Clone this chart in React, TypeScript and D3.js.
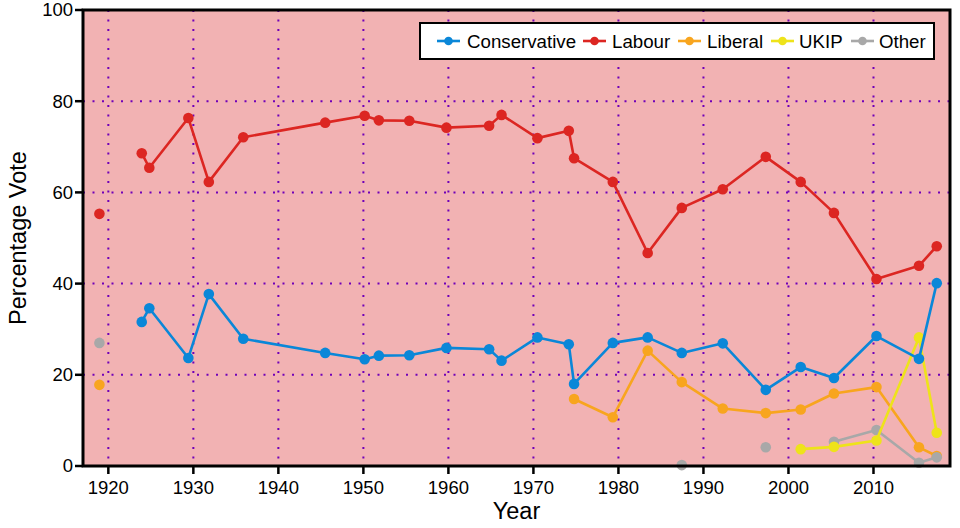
import React from "react";
import * as d3 from "d3";

// Election dates (decimal years); 1922.87 is a gap with no data
const electionYears = [
  1918.95, 1922.87, 1923.93, 1924.82, 1929.41, 1931.82, 1935.87, 1945.51, 1950.15, 1951.82,
  1955.4, 1959.77, 1964.79, 1966.25, 1970.47, 1974.16, 1974.78, 1979.34, 1983.44, 1987.45,
  1992.27, 1997.33, 2001.44, 2005.35, 2010.35, 2015.35, 2017.44,
];

const conservative = [
  null, null, 31.6, 34.6, 23.7, 37.7, 27.9, 24.8, 23.4, 24.2,
  24.3, 25.9, 25.6, 23.1, 28.2, 26.7, 18.0, 27.0, 28.2, 24.8,
  26.9, 16.7, 21.7, 19.3, 28.5, 23.5, 40.1,
];
const labour = [
  55.3, null, 68.6, 65.4, 76.3, 62.3, 72.1, 75.3, 76.8, 75.8,
  75.7, 74.2, 74.6, 77.0, 71.9, 73.5, 67.5, 62.3, 46.7, 56.6,
  60.7, 67.8, 62.3, 55.5, 41.0, 43.9, 48.2,
];
const liberal = [
  17.8, null, null, null, null, null, null, null, null, null,
  null, null, null, null, null, null, 14.7, 10.7, 25.3, 18.4,
  12.6, 11.6, 12.4, 15.9, 17.3, 4.1, 2.2,
];
const ukip = [
  null, null, null, null, null, null, null, null, null, null,
  null, null, null, null, null, null, null, null, null, null,
  null, null, 3.7, 4.2, 5.6, 28.2, 7.3,
];
const other = [
  27.0, null, null, null, null, null, null, null, null, null,
  null, null, null, null, null, null, null, null, null, 0.2,
  null, 4.1, null, 5.3, 7.9, 0.7, 1.9,
];

const seriesNames = ["Conservative", "Labour", "Liberal", "UKIP", "Other"];
const seriesColors = ["#0a87d8", "#dc2622", "#f8a51e", "#eee31a", "#a8a8a8"];
const seriesValues = [conservative, labour, liberal, ukip, other];
const drawOrder = [2, 4, 3, 1, 0];

const xTicks = [1920, 1930, 1940, 1950, 1960, 1970, 1980, 1990, 2000, 2010];
const yTicks = [0, 20, 40, 60, 80, 100];

const W = 960;
const H = 528;
const L = 83;
const R = 950;
const T = 10;
const B = 466;

const FONT = "'Liberation Sans', Arial, sans-serif";

export default function App() {
  const x = d3.scaleLinear().domain([1917.02, 2019.0]).range([L, R]);
  const y = d3.scaleLinear().domain([0, 100]).range([B, T]);

  const line = d3
    .line<number | null>()
    .defined((d) => d !== null)
    .x((_, i) => x(electionYears[i]))
    .y((d) => y(d as number));

  const gridColor = "#7000b8";

  const legendItems = [
    { lx: 437, tx: 467 },
    { lx: 583, tx: 612 },
    { lx: 678, tx: 707 },
    { lx: 771, tx: 799 },
    { lx: 851, tx: 879 },
  ];

  return (
    <svg
      width={W}
      height={H}
      style={{ position: "absolute", left: 0, top: 0, background: "#fff" }}
      fontFamily={FONT}
    >
      <rect x={L} y={T} width={R - L} height={B - T} fill="#f2b2b3" />
      {/* grid */}
      {xTicks.map((t) => (
        <line
          key={"gx" + t}
          x1={x(t)}
          x2={x(t)}
          y1={T}
          y2={B}
          stroke={gridColor}
          strokeWidth={2}
          strokeDasharray="2,7.5"
        />
      ))}
      {yTicks
        .filter((t) => t > 0 && t < 100)
        .map((t) => (
          <line
            key={"gy" + t}
            x1={L}
            x2={R}
            y1={y(t)}
            y2={y(t)}
            stroke={gridColor}
            strokeWidth={2}
            strokeDasharray="2,7.5"
          />
        ))}
      {/* series */}
      {drawOrder.map((si) => {
        const vals = seriesValues[si];
        const c = seriesColors[si];
        return (
          <g key={seriesNames[si]}>
            <path d={line(vals) || ""} fill="none" stroke={c} strokeWidth={2.6} strokeLinejoin="round" />
            {vals.map((v, i) =>
              v === null ? null : (
                <circle key={i} cx={x(electionYears[i])} cy={y(v)} r={5.3} fill={c} />
              )
            )}
          </g>
        );
      })}
      {/* frame */}
      <rect x={L} y={T} width={R - L} height={B - T} fill="none" stroke="#000" strokeWidth={3} />
      {/* y ticks */}
      {yTicks.map((t) => (
        <g key={"yt" + t}>
          <line x1={L - 8} x2={L} y1={y(t)} y2={y(t)} stroke="#000" strokeWidth={2.5} />
          <text x={L - 10} y={y(t)} dy="0.35em" textAnchor="end" fontSize={18.5} fill="#000">
            {t}
          </text>
        </g>
      ))}
      {/* x ticks */}
      {xTicks.map((t) => (
        <g key={"xt" + t}>
          <line x1={x(t)} x2={x(t)} y1={B} y2={B + 8} stroke="#000" strokeWidth={2.5} />
          <text x={x(t)} y={B + 28} textAnchor="middle" fontSize={18.5} fill="#000">
            {t}
          </text>
        </g>
      ))}
      <text x={(L + R) / 2} y={519} textAnchor="middle" fontSize={23.5} fill="#000">
        Year
      </text>
      <text
        transform={`translate(26, ${(T + B) / 2}) rotate(-90)`}
        textAnchor="middle"
        fontSize={23.5}
        fill="#000"
      >
        Percentage Vote
      </text>
      {/* legend */}
      <rect x={420} y={23} width={514} height={36} fill="#fff" stroke="#000" strokeWidth={2} />
      {seriesNames.map((n, i) => (
        <g key={"lg" + n}>
          <line
            x1={legendItems[i].lx}
            x2={legendItems[i].lx + 23}
            y1={41}
            y2={41}
            stroke={seriesColors[i]}
            strokeWidth={2.6}
          />
          <circle cx={legendItems[i].lx + 11.5} cy={41} r={4.3} fill={seriesColors[i]} />
          <text x={legendItems[i].tx} y={41} dy="0.35em" fontSize={18.7} fill="#000">
            {n}
          </text>
        </g>
      ))}
    </svg>
  );
}
